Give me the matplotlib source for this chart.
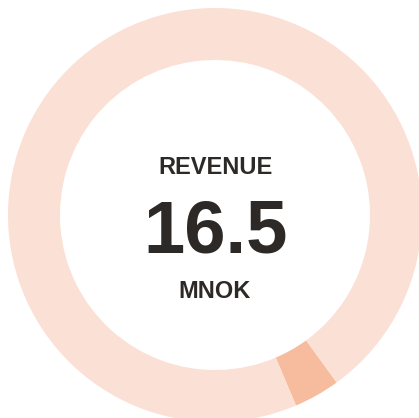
import matplotlib
matplotlib.use("Agg")
import matplotlib.pyplot as plt

# data
segments = ["highlight", "rest"]
shares = [3.6, 96.4]
seg_colors = ["#F7BB9D", "#FBE0D5"]
title = "REVENUE"
value = "16.5"
unit = "MNOK"

W, H = 419, 418
fig = plt.figure(figsize=(W / 100, H / 100), dpi=100)
ax = fig.add_axes([0, 0, 1, 1])
ax.set_xlim(0, W)
ax.set_ylim(0, H)
ax.set_aspect("equal")
ax.axis("off")

# ring: center (215, 215) in image px, outer r 207, inner r 155
cx, cy = 215, H - 215
ax.pie(shares, colors=seg_colors, startangle=-54, counterclock=False,
       center=(cx, cy), radius=207, frame=True,
       wedgeprops=dict(width=52, linewidth=0))
ax.set_xlim(0, W)
ax.set_ylim(0, H)
ax.axis("off")

txt = "#2D2926"
fam = ["Liberation Sans", "DejaVu Sans"]
ax.text(cx, H - 173.5, title, ha="center", va="baseline", fontsize=17,
        fontweight="bold", color=txt, family=fam)
ax.text(cx + 1, H - 252.3, value, ha="center", va="baseline", fontsize=53.5,
        fontweight="bold", color=txt, family=fam)
ax.text(cx, H - 298.5, unit, ha="center", va="baseline", fontsize=17,
        fontweight="bold", color=txt, family=fam)

fig.savefig("out.png", dpi=100)
